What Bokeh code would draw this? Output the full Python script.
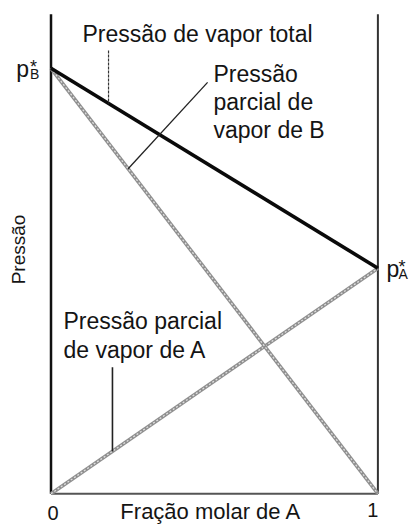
from math import pi

from bokeh.embed import file_html
from bokeh.models import Label, Range1d
from bokeh.plotting import figure
from bokeh.resources import INLINE

# Raoult's law for an ideal binary mixture A + B
mole_fraction_A = [0.0, 1.0]
p_star_B = 1.0          # vapour pressure of pure B
p_star_A = 0.53         # vapour pressure of pure A
partial_A = [mole_fraction_A[0] * p_star_A, mole_fraction_A[1] * p_star_A]
partial_B = [(1 - mole_fraction_A[0]) * p_star_B, (1 - mole_fraction_A[1]) * p_star_B]
total = [a + b for a, b in zip(partial_A, partial_B)]

tick_labels = ["0", "1"]
axis_top = 1.127

FONT = "Liberation Sans"
INK = "#141414"
BASELINE_FIX = 8  # px lift so alphabetic baselines land where intended


def total_at(x):
    return p_star_B + (p_star_A - p_star_B) * x


def partial_A_at(x):
    return p_star_A * x


def partial_B_at(x):
    return p_star_B * (1 - x)


# the frame fills the whole canvas so that the margin texts are not clipped
p = figure(
    width=411, height=525,
    x_range=Range1d(-0.1545, 1.1028), y_range=Range1d(-0.0748, 1.1594),
    x_axis_location=None, y_axis_location=None,
    output_backend="svg", toolbar_location=None,
    min_border=0,
)
p.outline_line_color = None
p.grid.visible = False
p.background_fill_color = "white"
p.border_fill_color = "white"

# frame lines: left, right, bottom
p.line([0, 0], [0, axis_top], line_color="#111111", line_width=2.5)
p.line([1, 1], [0, axis_top], line_color="#333333", line_width=2)
p.line([0, 1], [0, 0], line_color="#555555", line_width=2)

# partial pressures (grey, textured)
for ys in (partial_A, partial_B):
    p.line(mole_fraction_A, ys, line_color="#8f8f8f", line_width=3.6)
    p.line(mole_fraction_A, ys, line_color="#dedede", line_width=1.3,
           line_dash="2 2")

# total vapour pressure
p.line(mole_fraction_A, total, line_color="#0a0a0a", line_width=3.6)

# leader lines from the labels to their curves
x_tot = 0.176
p.line([x_tot, x_tot], [1.042, total_at(x_tot)], line_color="#333333",
       line_width=1.2, line_dash="3 1")
x_b0, y_b0, x_b1 = 0.479, 0.967, 0.236
p.line([x_b0, x_b1], [y_b0, partial_B_at(x_b1)], line_color="#222222",
       line_width=1.3)
x_a = 0.188
p.line([x_a, x_a], [0.297, partial_A_at(x_a)], line_color="#222222",
       line_width=1.6)


def label(x, y, text, size="23px", align="left", baseline="alphabetic",
          angle=0.0, dx=0, dy=0):
    if baseline == "alphabetic":
        dy += BASELINE_FIX
    p.add_layout(Label(x=x, y=y, text=text, text_font=FONT,
                       text_font_size=size, text_color=INK,
                       text_align=align, text_baseline=baseline,
                       angle=angle, x_offset=dx, y_offset=dy))


label(0.0963, 1.061, "Pressão de vapor total")
label(0.497, 0.967, "Pressão")
label(0.497, 0.901, "parcial de")
label(0.497, 0.837, "vapor de B")
label(0.0382, 0.386, "Pressão parcial")
label(0.0382, 0.320, "de vapor de A")

# axis texts
label(mole_fraction_A[0], 0, tick_labels[0], size="20px", align="center", dx=2, dy=-27)
label(mole_fraction_A[1], 0, tick_labels[1], size="20px", align="center", dx=-5, dy=-24)
label(0.489, 0, "Fração molar de A", size="22px", align="center", dy=-26)
label(-0.098, 0.574, "Pressão", size="19px", align="center",
      baseline="middle", angle=pi / 2)

# p*_B and p*_A markers at the pure-component pressures
label(0, p_star_B, "p", align="right", dx=-22, dy=-9)
label(0, p_star_B, "B", size="14px", dx=-21, dy=-14)
label(0, p_star_B, "*", size="18px", dx=-21, dy=-7)
label(1, p_star_A, "p", dx=8.6, dy=-9)
label(1, p_star_A, "A", size="14px", dx=20.6, dy=-14)
label(1, p_star_A, "*", size="18px", dx=20.6, dy=-7)

open("out.html", "w").write(file_html(p, INLINE))
